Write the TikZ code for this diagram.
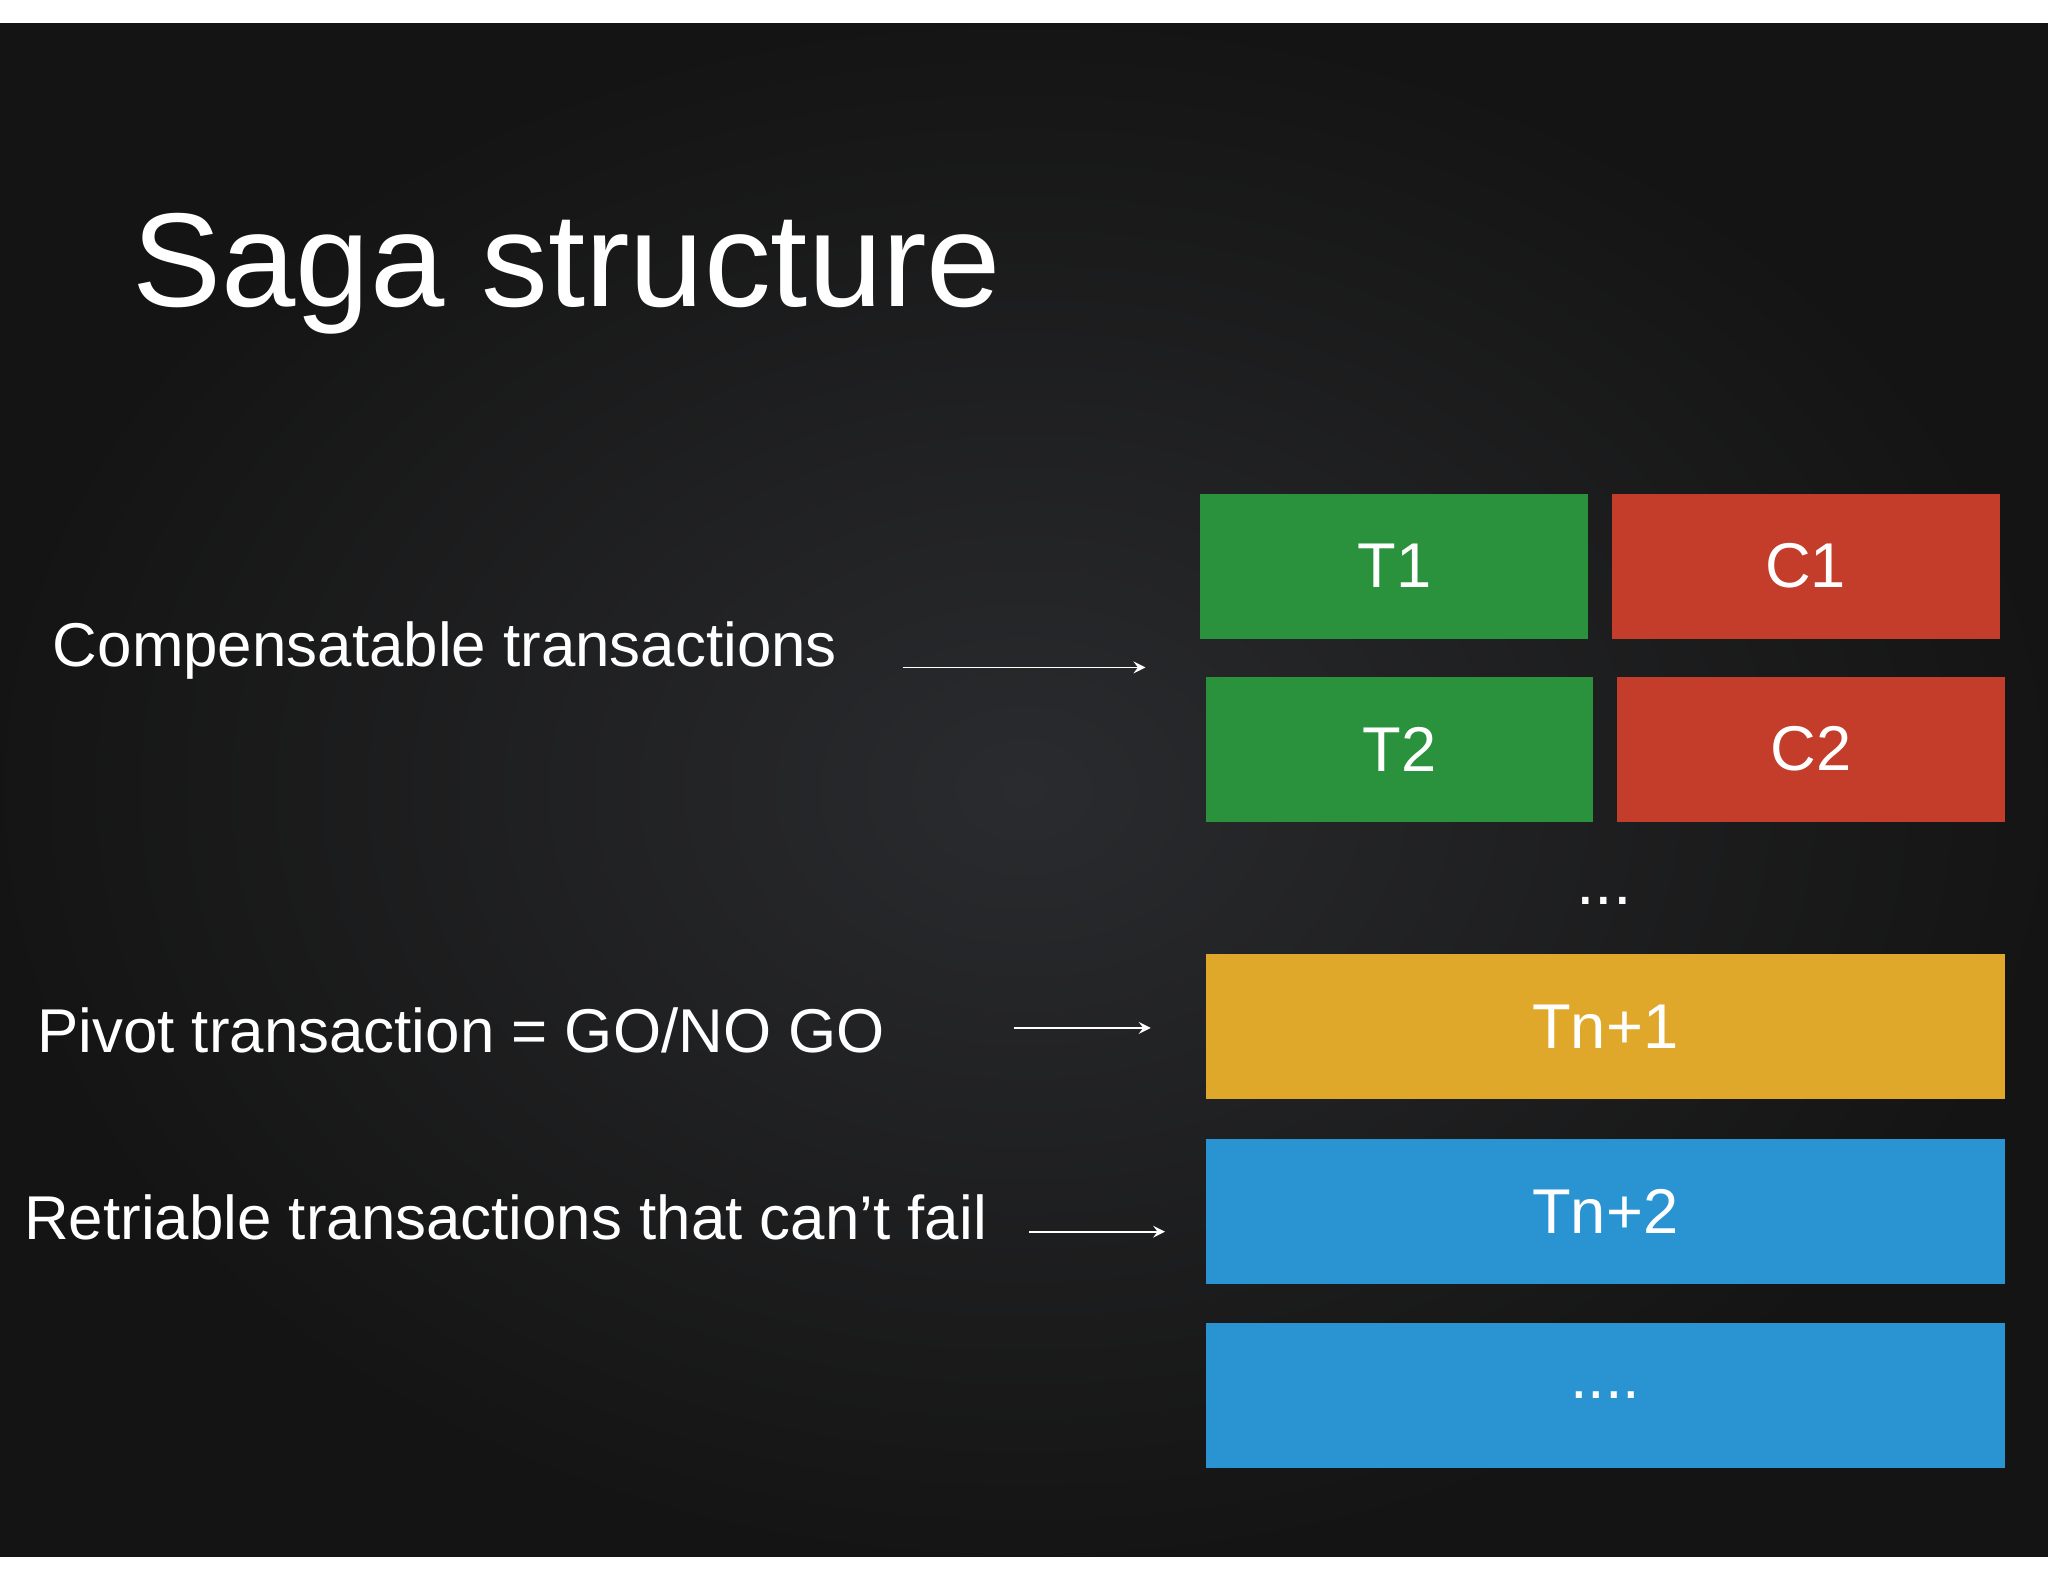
\documentclass[tikz,border=0pt]{standalone}
\usepackage{fontspec}
\setmainfont{Liberation Sans}
\begin{document}
\begin{tikzpicture}[x=0.01306cm,y=-0.01306cm,
  blk/.style={draw=none,minimum height=111*0.01306cm,text=white,font=\fontsize{18}{22}\selectfont,inner sep=0},
  lbl/.style={text=white,font=\fontsize{17.6}{22}\selectfont,anchor=west,inner sep=0},
  arr/.style={white,-stealth,line width=0.5pt}]
\definecolor{bg}{HTML}{2A2B2E}
\definecolor{gr}{HTML}{2A913C}
\definecolor{rd}{HTML}{C33D2A}
\definecolor{yl}{HTML}{E0A82A}
\definecolor{bl}{HTML}{2A94D3}
\useasboundingbox (0,0) rectangle (1568,1211);
\fill[white] (0,0) rectangle (1568,1211);
\shade[inner color=bg, outer color=black!92] (0,18) rectangle (1568,1192);
\node[text=white,font=\fontsize{38}{46}\selectfont,anchor=base west,inner sep=0] (title) at (101,235) {Saga structure};
\node[blk,fill=gr,minimum width=297*0.01306cm] (t1) at (1067.5,433.5) {T1};
\node[blk,fill=rd,minimum width=297*0.01306cm] (c1) at (1382.5,433.5) {C1};
\node[blk,fill=gr,minimum width=297*0.01306cm] (t2) at (1071.5,573.5) {T2};
\node[blk,fill=rd,minimum width=297*0.01306cm] (c2) at (1386.5,573.5) {C2};
\node[text=white,font=\fontsize{19}{22}\selectfont] (dots) at (1228,690) {...};
\node[blk,fill=yl,minimum width=612*0.01306cm] (tn1) at (1229,786) {Tn+1};
\node[blk,fill=bl,minimum width=612*0.01306cm] (tn2) at (1229,927.5) {Tn+2};
\node[blk,fill=bl,minimum width=612*0.01306cm] (more) at (1229,1068.5) {....};
\node[lbl] (l1) at (40,498) {Compensatable transactions};
\node[lbl] (l2) at (28,789) {Pivot transaction = GO/NO GO};
\node[lbl] (l3) at (18,932) {Retriable transactions that can’t fail};
\coordinate (a1s) at (691,511); \coordinate (a1e) at (877,511);
\coordinate (a2s) at (776,787); \coordinate (a2e) at (881,787);
\coordinate (a3s) at (788,943); \coordinate (a3e) at (892,943);
\draw[arr] (a1s) -- (a1e);
\draw[arr] (a2s) -- (a2e);
\draw[arr] (a3s) -- (a3e);
\end{tikzpicture}
\end{document}
